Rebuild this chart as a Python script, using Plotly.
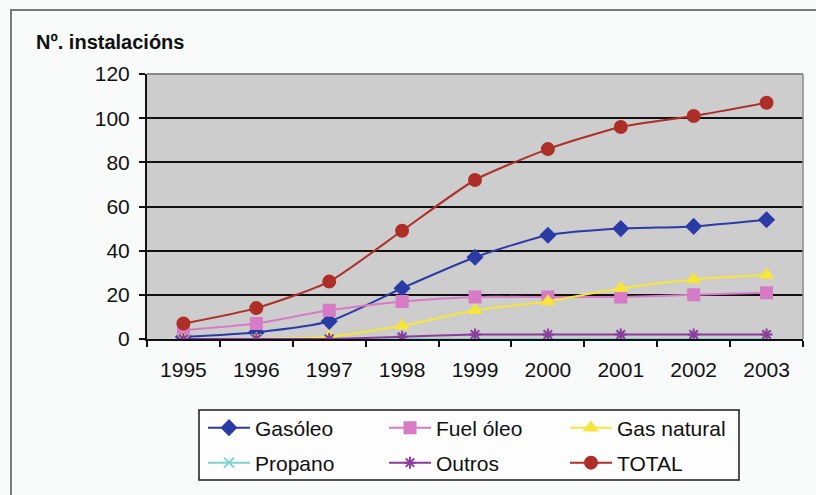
import plotly.graph_objects as go

years = ["1995", "1996", "1997", "1998", "1999", "2000", "2001", "2002", "2003"]

gasoleo = [1, 3, 8, 23, 37, 47, 50, 51, 54]
fuel_oleo = [4, 7, 13, 17, 19, 19, 19, 20, 21]
gas_natural = [0, 0, 1, 6, 13, 17, 23, 27, 29]
propano = [0, 0, 0, 0, 0, 0, 0, 0, 0]
outros = [0, 0, 0, 1, 2, 2, 2, 2, 2]
total = [7, 14, 26, 49, 72, 86, 96, 101, 107]

y_ticks = [0, 20, 40, 60, 80, 100, 120]

# name, values, colour, marker symbol, marker size, legend row
series = [
    ("Gasóleo", gasoleo, "#2B3BA6", "diamond", 11, "legend"),
    ("Fuel óleo", fuel_oleo, "#D77BC6", "square", 11, "legend"),
    ("Gas natural", gas_natural, "#F6E63C", "triangle-up", 11, "legend"),
    ("Propano", propano, "#7FD3CF", "x-thin-open", 10, "legend2"),
    ("Outros", outros, "#8B3C9C", "asterisk-open", 10, "legend2"),
    ("TOTAL", total, "#AE2E28", "circle", 12, "legend2"),
]

FONT = "Liberation Sans, Arial, sans-serif"

fig = go.Figure()
for name, vals, color, symbol, size, leg in series:
    fig.add_trace(go.Scatter(
        x=years, y=vals, name=name, mode="lines+markers", legend=leg,
        line=dict(color=color, width=2, shape="spline", smoothing=0.6),
        marker=dict(symbol=symbol, size=size, color=color,
                    line=dict(color=color, width=2)),
    ))

W, H = 816, 495
L, R, T, B = 147, 13, 74, 156
pw, ph = W - L - R, H - T - B

def px_x(p):
    return (p - L) / pw

def px_y(p):
    return (H - B - p) / ph

legend_style = dict(
    orientation="h", xanchor="left", yanchor="middle",
    bgcolor="rgba(0,0,0,0)", borderwidth=0,
    font=dict(family=FONT, size=21, color="#111111"),
    itemwidth=42, entrywidth=124, traceorder="normal",
)

fig.update_layout(
    width=W, height=H,
    margin=dict(l=L, r=R, t=T, b=B, pad=0),
    paper_bgcolor="#F9FBFB",
    plot_bgcolor="#CDCDCD",
    font=dict(family=FONT, size=21, color="#111111"),
    showlegend=True,
    legend=dict(x=px_x(203), y=px_y(428), **legend_style),
    legend2=dict(x=px_x(203), y=px_y(463), **legend_style),
    xaxis=dict(
        type="category", range=[-0.5, 8.5],
        showline=True, linecolor="#111111", linewidth=2,
        ticks="outside", tickson="boundaries", ticklen=6,
        tickcolor="#111111", tickwidth=2,
        showgrid=False, tickfont=dict(size=21),
        ticklabelstandoff=11, zeroline=False,
    ),
    yaxis=dict(
        range=[0, 120], tickvals=y_ticks,
        showline=True, linecolor="#111111", linewidth=2,
        ticks="outside", ticklen=6, tickcolor="#111111", tickwidth=2,
        showgrid=True, gridcolor="#111111", gridwidth=2,
        zeroline=False, tickfont=dict(size=21), ticklabelstandoff=5,
    ),
    shapes=[
        # outer chart frame
        dict(type="rect", xref="paper", yref="paper",
             x0=px_x(11), y0=px_y(600), x1=px_x(900), y1=px_y(10),
             line=dict(color="#7A7A7A", width=2), fillcolor="rgba(0,0,0,0)",
             layer="below"),
        # legend box
        dict(type="rect", xref="paper", yref="paper",
             x0=px_x(199), y0=px_y(480), x1=px_x(739), y1=px_y(410),
             line=dict(color="#1A1A1A", width=1.5), fillcolor="#FDFDFD",
             layer="below"),
        # plot area border: top and right edges in grey
        dict(type="line", xref="paper", yref="paper",
             x0=0, y0=1, x1=1, y1=1,
             line=dict(color="#8A8A8A", width=2), layer="above"),
        dict(type="line", xref="paper", yref="paper",
             x0=1, y0=0, x1=1, y1=1,
             line=dict(color="#8A8A8A", width=1.5), layer="above"),
    ],
    annotations=[
        dict(text="<b>Nº. instalacións</b>", xref="paper", yref="paper",
             x=px_x(34), y=px_y(42), xanchor="left", yanchor="middle",
             showarrow=False, font=dict(family=FONT, size=20, color="#111111")),
    ],
)

fig.write_html("out.html")
